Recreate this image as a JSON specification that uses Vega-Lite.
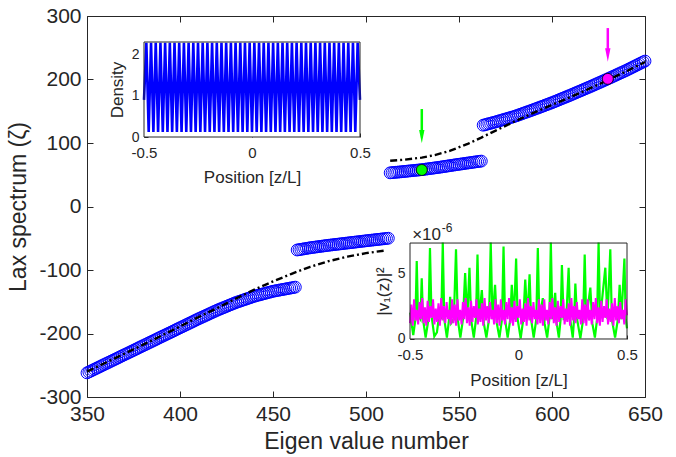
{
"$schema":"https://vega.github.io/schema/vega-lite/v6.json",
"width":558,"height":381,
"autosize":{"type":"none"},
"padding":{"left":87,"top":16,"right":31,"bottom":60},
"background":"white",
"config":{
"font":"Liberation Sans",
"locale":{"number":{"decimal":".","thousands":",","grouping":[3],"currency":["$",""],"minus":"-"}},
"view":{"stroke":"#262626","strokeWidth":1},
"axis":{"grid":false,"domain":false,"tickColor":"#262626","labelColor":"#262626","titleColor":"#262626","titleFontWeight":"normal","labelFont":"Liberation Sans","titleFont":"Liberation Sans","labelFlush":false,"labelOverlap":false}
},
"datasets":{
"eig":[
{"n":350,"v":-262},{"n":351,"v":-260.6},{"n":352,"v":-259.2},{"n":353,"v":-257.7},{"n":354,"v":-256.3},{"n":355,"v":-254.9},{"n":356,"v":-253.5},{"n":357,"v":-252.1},{"n":358,"v":-250.6},{"n":359,"v":-249.2},
{"n":360,"v":-247.8},{"n":361,"v":-246.4},{"n":362,"v":-245},{"n":363,"v":-243.5},{"n":364,"v":-242.1},{"n":365,"v":-240.7},{"n":366,"v":-239.3},{"n":367,"v":-237.9},{"n":368,"v":-236.4},{"n":369,"v":-235},
{"n":370,"v":-233.6},{"n":371,"v":-232.2},{"n":372,"v":-230.8},{"n":373,"v":-229.3},{"n":374,"v":-227.9},{"n":375,"v":-226.5},{"n":376,"v":-225.1},{"n":377,"v":-223.7},{"n":378,"v":-222.2},{"n":379,"v":-220.8},
{"n":380,"v":-219.4},{"n":381,"v":-218},{"n":382,"v":-216.6},{"n":383,"v":-215.1},{"n":384,"v":-213.7},{"n":385,"v":-212.3},{"n":386,"v":-210.9},{"n":387,"v":-209.5},{"n":388,"v":-208},{"n":389,"v":-206.6},
{"n":390,"v":-205.2},{"n":391,"v":-203.8},{"n":392,"v":-202.4},{"n":393,"v":-200.9},{"n":394,"v":-199.5},{"n":395,"v":-198.1},{"n":396,"v":-196.7},{"n":397,"v":-195.3},{"n":398,"v":-193.8},{"n":399,"v":-192.4},
{"n":400,"v":-191},{"n":401,"v":-189.6},{"n":402,"v":-188.2},{"n":403,"v":-186.7},{"n":404,"v":-185.3},{"n":405,"v":-183.9},{"n":406,"v":-182.5},{"n":407,"v":-181.1},{"n":408,"v":-179.6},{"n":409,"v":-178.2},
{"n":410,"v":-176.8},{"n":411,"v":-175.5},{"n":412,"v":-174.1},{"n":413,"v":-172.8},{"n":414,"v":-171.4},{"n":415,"v":-170.1},{"n":416,"v":-168.7},{"n":417,"v":-167.4},{"n":418,"v":-166},{"n":419,"v":-164.7},
{"n":420,"v":-163.3},{"n":421,"v":-162.1},{"n":422,"v":-160.9},{"n":423,"v":-159.7},{"n":424,"v":-158.5},{"n":425,"v":-157.3},{"n":426,"v":-156.1},{"n":427,"v":-154.9},{"n":428,"v":-153.7},{"n":429,"v":-152.5},
{"n":430,"v":-151.3},{"n":431,"v":-150.3},{"n":432,"v":-149.3},{"n":433,"v":-148.3},{"n":434,"v":-147.3},{"n":435,"v":-146.3},{"n":436,"v":-145.3},{"n":437,"v":-144.3},{"n":438,"v":-143.3},{"n":439,"v":-142.3},
{"n":440,"v":-141.3},{"n":441,"v":-140.5},{"n":442,"v":-139.7},{"n":443,"v":-139},{"n":444,"v":-138.2},{"n":445,"v":-137.4},{"n":446,"v":-136.6},{"n":447,"v":-135.8},{"n":448,"v":-135.1},{"n":449,"v":-134.3},
{"n":450,"v":-133.5},{"n":451,"v":-133},{"n":452,"v":-132.4},{"n":453,"v":-131.9},{"n":454,"v":-131.3},{"n":455,"v":-130.8},{"n":456,"v":-130.3},{"n":457,"v":-129.7},{"n":458,"v":-129.2},{"n":459,"v":-128.6},
{"n":460,"v":-128.1},{"n":461,"v":-127.6},{"n":462,"v":-127},
{"n":463,"v":-68.5},{"n":464,"v":-68},{"n":465,"v":-67.5},{"n":466,"v":-67},{"n":467,"v":-66.5},{"n":468,"v":-66},{"n":469,"v":-65.5},
{"n":470,"v":-65},{"n":471,"v":-64.6},{"n":472,"v":-64.2},{"n":473,"v":-63.8},{"n":474,"v":-63.4},{"n":475,"v":-63},{"n":476,"v":-62.6},{"n":477,"v":-62.2},{"n":478,"v":-61.8},{"n":479,"v":-61.4},
{"n":480,"v":-61},{"n":481,"v":-60.7},{"n":482,"v":-60.3},{"n":483,"v":-60},{"n":484,"v":-59.6},{"n":485,"v":-59.3},{"n":486,"v":-58.9},{"n":487,"v":-58.6},{"n":488,"v":-58.2},{"n":489,"v":-57.9},
{"n":490,"v":-57.5},{"n":491,"v":-57.2},{"n":492,"v":-56.8},{"n":493,"v":-56.5},{"n":494,"v":-56.1},{"n":495,"v":-55.8},{"n":496,"v":-55.4},{"n":497,"v":-55.1},{"n":498,"v":-54.7},{"n":499,"v":-54.4},
{"n":500,"v":-54},{"n":501,"v":-53.7},{"n":502,"v":-53.3},{"n":503,"v":-53},{"n":504,"v":-52.7},{"n":505,"v":-52.3},{"n":506,"v":-52},{"n":507,"v":-51.7},{"n":508,"v":-51.3},{"n":509,"v":-51},
{"n":510,"v":-50.7},{"n":511,"v":-50.3},{"n":512,"v":-50},
{"n":513,"v":53},{"n":514,"v":53.3},{"n":515,"v":53.6},{"n":516,"v":53.9},{"n":517,"v":54.1},{"n":518,"v":54.4},{"n":519,"v":54.7},
{"n":520,"v":55},{"n":521,"v":55.3},{"n":522,"v":55.6},{"n":523,"v":55.9},{"n":524,"v":56.2},{"n":525,"v":56.5},{"n":526,"v":56.8},{"n":527,"v":57.1},{"n":528,"v":57.4},{"n":529,"v":57.7},
{"n":530,"v":58},{"n":531,"v":58.4},{"n":532,"v":58.8},{"n":533,"v":59.2},{"n":534,"v":59.6},{"n":535,"v":60},{"n":536,"v":60.4},{"n":537,"v":60.8},{"n":538,"v":61.2},{"n":539,"v":61.6},
{"n":540,"v":62},{"n":541,"v":62.5},{"n":542,"v":62.9},{"n":543,"v":63.4},{"n":544,"v":63.8},{"n":545,"v":64.3},{"n":546,"v":64.7},{"n":547,"v":65.2},{"n":548,"v":65.6},{"n":549,"v":66.1},
{"n":550,"v":66.5},{"n":551,"v":66.9},{"n":552,"v":67.3},{"n":553,"v":67.8},{"n":554,"v":68.2},{"n":555,"v":68.6},{"n":556,"v":69},{"n":557,"v":69.4},{"n":558,"v":69.9},{"n":559,"v":70.3},
{"n":560,"v":70.7},{"n":561,"v":71.1},{"n":562,"v":71.5},
{"n":563,"v":128},{"n":564,"v":128.8},{"n":565,"v":129.6},{"n":566,"v":130.4},{"n":567,"v":131.1},{"n":568,"v":131.9},{"n":569,"v":132.7},
{"n":570,"v":133.5},{"n":571,"v":134.4},{"n":572,"v":135.2},{"n":573,"v":136.1},{"n":574,"v":136.9},{"n":575,"v":137.8},{"n":576,"v":138.6},{"n":577,"v":139.5},{"n":578,"v":140.3},{"n":579,"v":141.2},
{"n":580,"v":142},{"n":581,"v":143.1},{"n":582,"v":144.1},{"n":583,"v":145.2},{"n":584,"v":146.2},{"n":585,"v":147.3},{"n":586,"v":148.3},{"n":587,"v":149.4},{"n":588,"v":150.4},{"n":589,"v":151.5},
{"n":590,"v":152.5},{"n":591,"v":153.6},{"n":592,"v":154.7},{"n":593,"v":155.8},{"n":594,"v":156.9},{"n":595,"v":158},{"n":596,"v":159.1},{"n":597,"v":160.2},{"n":598,"v":161.3},{"n":599,"v":162.4},
{"n":600,"v":163.5},{"n":601,"v":164.7},{"n":602,"v":165.9},{"n":603,"v":167.1},{"n":604,"v":168.3},{"n":605,"v":169.5},{"n":606,"v":170.7},{"n":607,"v":171.9},{"n":608,"v":173.1},{"n":609,"v":174.3},
{"n":610,"v":175.5},{"n":611,"v":176.8},{"n":612,"v":178},{"n":613,"v":179.3},{"n":614,"v":180.5},{"n":615,"v":181.8},{"n":616,"v":183},{"n":617,"v":184.3},{"n":618,"v":185.5},{"n":619,"v":186.8},
{"n":620,"v":188},{"n":621,"v":189.3},{"n":622,"v":190.6},{"n":623,"v":191.9},{"n":624,"v":193.2},{"n":625,"v":194.5},{"n":626,"v":195.8},{"n":627,"v":197.1},{"n":628,"v":198.4},{"n":629,"v":199.7},
{"n":630,"v":201},{"n":631,"v":202.4},{"n":632,"v":203.7},{"n":633,"v":205.1},{"n":634,"v":206.4},{"n":635,"v":207.8},{"n":636,"v":209.1},{"n":637,"v":210.5},{"n":638,"v":211.8},{"n":639,"v":213.2},
{"n":640,"v":214.5},{"n":641,"v":216},{"n":642,"v":217.4},{"n":643,"v":218.9},{"n":644,"v":220.3},{"n":645,"v":221.8},{"n":646,"v":223.2},{"n":647,"v":224.7},{"n":648,"v":226.1},{"n":649,"v":227.6},
{"n":650,"v":229}
],
"dash":[
{"s":"a","n":350,"v":-260},{"s":"a","n":360,"v":-246},{"s":"a","n":370,"v":-232},{"s":"a","n":380,"v":-218},{"s":"a","n":390,"v":-203.5},{"s":"a","n":400,"v":-189},{"s":"a","n":410,"v":-174},{"s":"a","n":420,"v":-160},{"s":"a","n":430,"v":-145},{"s":"a","n":440,"v":-131},{"s":"a","n":450,"v":-118},{"s":"a","n":460,"v":-106},{"s":"a","n":470,"v":-95},{"s":"a","n":480,"v":-86},{"s":"a","n":490,"v":-79},{"s":"a","n":500,"v":-73.5},{"s":"a","n":511,"v":-69},
{"s":"b","n":513,"v":72},{"s":"b","n":520,"v":73.5},{"s":"b","n":530,"v":77},{"s":"b","n":537,"v":81},{"s":"b","n":545,"v":87.5},{"s":"b","n":555,"v":99},{"s":"b","n":562,"v":108.5},{"s":"b","n":570,"v":120},{"s":"b","n":580,"v":134},{"s":"b","n":590,"v":147.5},{"s":"b","n":600,"v":160},{"s":"b","n":610,"v":172.5},{"s":"b","n":620,"v":185.5},{"s":"b","n":630,"v":199},{"s":"b","n":640,"v":213},{"s":"b","n":650,"v":227.5}
],
"picked":[{"n":530,"v":57.5,"eig":"530"},{"n":630,"v":201,"eig":"630"}],
"arrows":[{"n":530,"top":153.5,"base":119,"head":110,"eig":"530"},{"n":630,"top":281,"base":245,"head":238.6,"eig":"630"}],
"dens":[
{"z":-0.5,"d":0.9},{"z":-0.4891,"d":2.28},{"z":-0.4783,"d":0.12},{"z":-0.4674,"d":2.28},{"z":-0.4565,"d":0.12},{"z":-0.4457,"d":2.28},{"z":-0.4348,"d":0.12},{"z":-0.4239,"d":2.28},{"z":-0.413,"d":0.12},{"z":-0.4022,"d":2.28},
{"z":-0.3913,"d":0.12},{"z":-0.3804,"d":2.28},{"z":-0.3696,"d":0.12},{"z":-0.3587,"d":2.28},{"z":-0.3478,"d":0.12},{"z":-0.337,"d":2.28},{"z":-0.3261,"d":0.12},{"z":-0.3152,"d":2.28},{"z":-0.3043,"d":0.12},{"z":-0.2935,"d":2.28},
{"z":-0.2826,"d":0.12},{"z":-0.2717,"d":2.28},{"z":-0.2609,"d":0.12},{"z":-0.25,"d":2.28},{"z":-0.2391,"d":0.12},{"z":-0.2283,"d":2.28},{"z":-0.2174,"d":0.12},{"z":-0.2065,"d":2.28},{"z":-0.1957,"d":0.12},{"z":-0.1848,"d":2.28},
{"z":-0.1739,"d":0.12},{"z":-0.163,"d":2.28},{"z":-0.1522,"d":0.12},{"z":-0.1413,"d":2.28},{"z":-0.1304,"d":0.12},{"z":-0.1196,"d":2.28},{"z":-0.1087,"d":0.12},{"z":-0.0978,"d":2.28},{"z":-0.087,"d":0.12},{"z":-0.0761,"d":2.28},
{"z":-0.0652,"d":0.12},{"z":-0.0543,"d":2.28},{"z":-0.0435,"d":0.12},{"z":-0.0326,"d":2.28},{"z":-0.0217,"d":0.12},{"z":-0.0109,"d":2.28},{"z":0,"d":0.12},{"z":0.0109,"d":2.28},{"z":0.0217,"d":0.12},{"z":0.0326,"d":2.28},
{"z":0.0435,"d":0.12},{"z":0.0543,"d":2.28},{"z":0.0652,"d":0.12},{"z":0.0761,"d":2.28},{"z":0.087,"d":0.12},{"z":0.0978,"d":2.28},{"z":0.1087,"d":0.12},{"z":0.1196,"d":2.28},{"z":0.1304,"d":0.12},{"z":0.1413,"d":2.28},
{"z":0.1522,"d":0.12},{"z":0.163,"d":2.28},{"z":0.1739,"d":0.12},{"z":0.1848,"d":2.28},{"z":0.1957,"d":0.12},{"z":0.2065,"d":2.28},{"z":0.2174,"d":0.12},{"z":0.2283,"d":2.28},{"z":0.2391,"d":0.12},{"z":0.25,"d":2.28},
{"z":0.2609,"d":0.12},{"z":0.2717,"d":2.28},{"z":0.2826,"d":0.12},{"z":0.2935,"d":2.28},{"z":0.3043,"d":0.12},{"z":0.3152,"d":2.28},{"z":0.3261,"d":0.12},{"z":0.337,"d":2.28},{"z":0.3478,"d":0.12},{"z":0.3587,"d":2.28},
{"z":0.3696,"d":0.12},{"z":0.3804,"d":2.28},{"z":0.3913,"d":0.12},{"z":0.4022,"d":2.28},{"z":0.413,"d":0.12},{"z":0.4239,"d":2.28},{"z":0.4348,"d":0.12},{"z":0.4457,"d":2.28},{"z":0.4565,"d":0.12},{"z":0.4674,"d":2.28},
{"z":0.4783,"d":0.12},{"z":0.4891,"d":2.28},{"z":0.5,"d":0.9}
],
"green":[
{"z":-0.5,"p":2.0},{"z":-0.485,"p":0.3},{"z":-0.475,"p":1.5},{"z":-0.469,"p":5.9},{"z":-0.463,"p":1.8},{"z":-0.452,"p":1.5},{"z":-0.446,"p":4.6},{"z":-0.44,"p":1.5},{"z":-0.428,"p":0.1},{"z":-0.415,"p":1.5},
{"z":-0.408,"p":6.9},{"z":-0.401,"p":1.8},{"z":-0.388,"p":0.2},{"z":-0.376,"p":0.5},{"z":-0.364,"p":2.0},{"z":-0.356,"p":1.5},{"z":-0.349,"p":7.3},{"z":-0.342,"p":1.5},{"z":-0.33,"p":0.1},{"z":-0.32,"p":1.5},
{"z":-0.315,"p":3.2},{"z":-0.31,"p":1.2},{"z":-0.298,"p":1.5},{"z":-0.288,"p":6.8},{"z":-0.28,"p":1.5},{"z":-0.268,"p":0.1},{"z":-0.256,"p":1.5},{"z":-0.246,"p":5.0},{"z":-0.236,"p":1.5},{"z":-0.226,"p":5.4},
{"z":-0.218,"p":1.4},{"z":-0.206,"p":0.1},{"z":-0.196,"p":1.5},{"z":-0.189,"p":6.4},{"z":-0.182,"p":1.5},{"z":-0.169,"p":3.7},{"z":-0.16,"p":1.2},{"z":-0.148,"p":0.1},{"z":-0.136,"p":1.5},{"z":-0.128,"p":7.3},
{"z":-0.12,"p":1.5},{"z":-0.108,"p":4.1},{"z":-0.1,"p":1.2},{"z":-0.088,"p":0.1},{"z":-0.076,"p":1.5},{"z":-0.069,"p":7.0},{"z":-0.062,"p":1.5},{"z":-0.05,"p":0.1},{"z":-0.038,"p":1.5},{"z":-0.031,"p":4.1},
{"z":-0.021,"p":1.5},{"z":-0.011,"p":6.1},{"z":-0.004,"p":1.5},{"z":0.01,"p":0.05},{"z":0.022,"p":1.5},{"z":0.031,"p":4.5},{"z":0.041,"p":1.5},{"z":0.051,"p":4.9},{"z":0.058,"p":1.5},{"z":0.07,"p":0.1},
{"z":0.082,"p":1.5},{"z":0.089,"p":6.9},{"z":0.096,"p":1.5},{"z":0.112,"p":3.1},{"z":0.12,"p":1.2},{"z":0.132,"p":0.1},{"z":0.142,"p":1.5},{"z":0.149,"p":7.3},{"z":0.156,"p":1.5},{"z":0.169,"p":3.5},
{"z":0.176,"p":1.2},{"z":0.186,"p":0.1},{"z":0.194,"p":1.5},{"z":0.2,"p":5.6},{"z":0.208,"p":1.5},{"z":0.22,"p":1.5},{"z":0.231,"p":5.4},{"z":0.238,"p":1.5},{"z":0.25,"p":0.1},{"z":0.256,"p":1.5},
{"z":0.262,"p":4.2},{"z":0.27,"p":1.5},{"z":0.285,"p":0.05},{"z":0.298,"p":1.5},{"z":0.305,"p":6.4},{"z":0.312,"p":1.5},{"z":0.331,"p":3.9},{"z":0.34,"p":1.2},{"z":0.352,"p":0.1},{"z":0.362,"p":1.5},
{"z":0.369,"p":7.3},{"z":0.376,"p":1.5},{"z":0.4,"p":5.4},{"z":0.41,"p":1.5},{"z":0.423,"p":6.8},{"z":0.43,"p":1.5},{"z":0.445,"p":0.1},{"z":0.458,"p":1.5},{"z":0.466,"p":4.1},{"z":0.474,"p":1.5},
{"z":0.488,"p":6.1},{"z":0.494,"p":1.5},{"z":0.5,"p":0.8}
],
"mag":[
{"z":-0.5,"p":1.2},{"z":-0.49375,"p":2.6},{"z":-0.4875,"p":1.0},{"z":-0.48125,"p":3.0},{"z":-0.475,"p":1.4},{"z":-0.46875,"p":2.2},{"z":-0.4625,"p":1.1},{"z":-0.45625,"p":2.8},{"z":-0.45,"p":1.5},{"z":-0.44375,"p":3.1},
{"z":-0.4375,"p":1.2},{"z":-0.43125,"p":2.4},{"z":-0.425,"p":1.0},{"z":-0.41875,"p":2.9},{"z":-0.4125,"p":1.3},{"z":-0.40625,"p":2.5},{"z":-0.4,"p":1.6},{"z":-0.39375,"p":3.0},{"z":-0.3875,"p":1.1},{"z":-0.38125,"p":2.3},
{"z":-0.375,"p":1.3},{"z":-0.36875,"p":2.7},{"z":-0.3625,"p":1.0},{"z":-0.35625,"p":3.1},{"z":-0.35,"p":1.4},{"z":-0.34375,"p":2.5},{"z":-0.3375,"p":1.2},{"z":-0.33125,"p":2.8},{"z":-0.325,"p":1.5},{"z":-0.31875,"p":2.2},
{"z":-0.3125,"p":1.1},{"z":-0.30625,"p":3.0},{"z":-0.3,"p":1.2},{"z":-0.29375,"p":2.6},{"z":-0.2875,"p":1.0},{"z":-0.28125,"p":3.0},{"z":-0.275,"p":1.4},{"z":-0.26875,"p":2.2},{"z":-0.2625,"p":1.1},{"z":-0.25625,"p":2.8},
{"z":-0.25,"p":1.5},{"z":-0.24375,"p":3.1},{"z":-0.2375,"p":1.2},{"z":-0.23125,"p":2.4},{"z":-0.225,"p":1.0},{"z":-0.21875,"p":2.9},{"z":-0.2125,"p":1.3},{"z":-0.20625,"p":2.5},{"z":-0.2,"p":1.6},{"z":-0.19375,"p":3.0},
{"z":-0.1875,"p":1.1},{"z":-0.18125,"p":2.3},{"z":-0.175,"p":1.3},{"z":-0.16875,"p":2.7},{"z":-0.1625,"p":1.0},{"z":-0.15625,"p":3.1},{"z":-0.15,"p":1.4},{"z":-0.14375,"p":2.5},{"z":-0.1375,"p":1.2},{"z":-0.13125,"p":2.8},
{"z":-0.125,"p":1.5},{"z":-0.11875,"p":2.2},{"z":-0.1125,"p":1.1},{"z":-0.10625,"p":3.0},{"z":-0.1,"p":1.2},{"z":-0.09375,"p":2.6},{"z":-0.0875,"p":1.0},{"z":-0.08125,"p":3.0},{"z":-0.075,"p":1.4},{"z":-0.06875,"p":2.2},
{"z":-0.0625,"p":1.1},{"z":-0.05625,"p":2.8},{"z":-0.05,"p":1.5},{"z":-0.04375,"p":3.1},{"z":-0.0375,"p":1.2},{"z":-0.03125,"p":2.4},{"z":-0.025,"p":1.0},{"z":-0.01875,"p":2.9},{"z":-0.0125,"p":1.3},{"z":-0.00625,"p":2.5},
{"z":0,"p":1.6},{"z":0.00625,"p":3.0},{"z":0.0125,"p":1.1},{"z":0.01875,"p":2.3},{"z":0.025,"p":1.3},{"z":0.03125,"p":2.7},{"z":0.0375,"p":1.0},{"z":0.04375,"p":3.1},{"z":0.05,"p":1.4},{"z":0.05625,"p":2.5},
{"z":0.0625,"p":1.2},{"z":0.06875,"p":2.8},{"z":0.075,"p":1.5},{"z":0.08125,"p":2.2},{"z":0.0875,"p":1.1},{"z":0.09375,"p":3.0},{"z":0.1,"p":1.2},{"z":0.10625,"p":2.6},{"z":0.1125,"p":1.0},{"z":0.11875,"p":3.0},
{"z":0.125,"p":1.4},{"z":0.13125,"p":2.2},{"z":0.1375,"p":1.1},{"z":0.14375,"p":2.8},{"z":0.15,"p":1.5},{"z":0.15625,"p":3.1},{"z":0.1625,"p":1.2},{"z":0.16875,"p":2.4},{"z":0.175,"p":1.0},{"z":0.18125,"p":2.9},
{"z":0.1875,"p":1.3},{"z":0.19375,"p":2.5},{"z":0.2,"p":1.6},{"z":0.20625,"p":3.0},{"z":0.2125,"p":1.1},{"z":0.21875,"p":2.3},{"z":0.225,"p":1.3},{"z":0.23125,"p":2.7},{"z":0.2375,"p":1.0},{"z":0.24375,"p":3.1},
{"z":0.25,"p":1.4},{"z":0.25625,"p":2.5},{"z":0.2625,"p":1.2},{"z":0.26875,"p":2.8},{"z":0.275,"p":1.5},{"z":0.28125,"p":2.2},{"z":0.2875,"p":1.1},{"z":0.29375,"p":3.0},{"z":0.3,"p":1.2},{"z":0.30625,"p":2.6},
{"z":0.3125,"p":1.0},{"z":0.31875,"p":3.0},{"z":0.325,"p":1.4},{"z":0.33125,"p":2.2},{"z":0.3375,"p":1.1},{"z":0.34375,"p":2.8},{"z":0.35,"p":1.5},{"z":0.35625,"p":3.1},{"z":0.3625,"p":1.2},{"z":0.36875,"p":2.4},
{"z":0.375,"p":1.0},{"z":0.38125,"p":2.9},{"z":0.3875,"p":1.3},{"z":0.39375,"p":2.5},{"z":0.4,"p":1.6},{"z":0.40625,"p":3.0},{"z":0.4125,"p":1.1},{"z":0.41875,"p":2.3},{"z":0.425,"p":1.3},{"z":0.43125,"p":2.7},
{"z":0.4375,"p":1.0},{"z":0.44375,"p":3.1},{"z":0.45,"p":1.4},{"z":0.45625,"p":2.5},{"z":0.4625,"p":1.2},{"z":0.46875,"p":2.8},{"z":0.475,"p":1.5},{"z":0.48125,"p":2.2},{"z":0.4875,"p":1.1},{"z":0.49375,"p":3.0},
{"z":0.5,"p":1.8}
]
},
"layer":[
{
"layer":[
{"data":{"name":"eig"},"mark":{"type":"point","shape":"circle","filled":false,"stroke":"#0000ff","strokeWidth":1,"size":140,"opacity":1},
"encoding":{
"x":{"field":"n","type":"quantitative","scale":{"domain":[350,650],"nice":false,"zero":false},"axis":{"values":[350,400,450,500,550,600,650],"title":"Eigen value number","labelFontSize":21,"titleFontSize":23,"tickSize":-6,"labelPadding":12,"titlePadding":6}},
"y":{"field":"v","type":"quantitative","scale":{"domain":[-300,300],"nice":false,"zero":false},"axis":{"values":[-300,-200,-100,0,100,200,300],"title":"Lax spectrum (ζ)","labelFontSize":21,"titleFontSize":23,"tickSize":-6,"labelPadding":12,"titlePadding":8}}}},
{"data":{"name":"dash"},"mark":{"type":"line","color":"black","strokeWidth":2.4,"strokeDash":[7,3,2,3]},
"encoding":{"x":{"field":"n","type":"quantitative"},"y":{"field":"v","type":"quantitative"},"detail":{"field":"s"}}},
{"data":{"name":"picked"},"mark":{"type":"point","shape":"circle","filled":true,"stroke":"black","strokeWidth":0.8,"size":120,"opacity":1},
"encoding":{"x":{"field":"n","type":"quantitative"},"y":{"field":"v","type":"quantitative"},"color":{"field":"eig","type":"nominal","scale":{"domain":["530","630"],"range":["#00ff00","#ff00ff"]},"legend":null},"stroke":{"value":"black"}}},
{"data":{"name":"arrows"},"mark":{"type":"rule","strokeWidth":2.5},
"encoding":{"x":{"field":"n","type":"quantitative"},"y":{"field":"top","type":"quantitative"},"y2":{"field":"base"},"color":{"field":"eig","type":"nominal","legend":null}}},
{"data":{"name":"arrows"},"mark":{"type":"point","shape":"M-0.4,-1L0.4,-1L0,1Z","filled":true,"size":180,"opacity":1,"strokeWidth":0},
"encoding":{"x":{"field":"n","type":"quantitative"},"y":{"field":"head","type":"quantitative"},"color":{"field":"eig","type":"nominal","legend":null}}}
]
},
{
"data":{"values":[{"n":350,"v":-300},{"n":650,"v":300}]},
"mark":{"type":"point","opacity":0},
"encoding":{
"x":{"field":"n","type":"quantitative","scale":{"domain":[350,650],"nice":false,"zero":false},"axis":{"orient":"top","values":[350,400,450,500,550,600,650],"labels":false,"title":null,"tickSize":-6}},
"y":{"field":"v","type":"quantitative","scale":{"domain":[-300,300],"nice":false,"zero":false},"axis":{"orient":"right","values":[-300,-200,-100,0,100,200,300],"labels":false,"title":null,"tickSize":-6}}}
},
{
"layer":[
{"data":{"values":[{"z0":-0.5,"z1":0.5,"d0":0,"d1":2.3}]},"mark":{"type":"rect","fill":"white","stroke":null},
"encoding":{
"x":{"field":"z0","type":"quantitative","scale":{"domain":[-0.76389,1.81944],"nice":false,"zero":false},"axis":{"orient":"bottom","offset":-260,"values":[-0.5,0,0.5],"format":"~g","tickSize":-4,"labelPadding":12,"labelFontSize":15,"title":"Position [z/L]","titleFontSize":17,"titleX":165,"titleY":45,"titleBaseline":"alphabetic"}},
"x2":{"field":"z1"},
"y":{"field":"d0","type":"quantitative","scale":{"domain":[-6.2947,2.9295],"nice":false,"zero":false},"axis":{"orient":"left","offset":-57,"values":[0,1,2],"format":"~g","tickSize":-4,"labelPadding":9,"labelFontSize":14,"title":"Density","titleFontSize":17,"titleX":-22,"titleY":73.5,"titleBaseline":"alphabetic","titleAngle":-90}},
"y2":{"field":"d1"}}},
{"data":{"name":"dens"},"mark":{"type":"line","color":"#0000ff","strokeWidth":2.6},
"encoding":{"x":{"field":"z","type":"quantitative"},"y":{"field":"d","type":"quantitative"}}},
{"data":{"values":[{"z0":-0.5,"z1":0.5,"d0":0,"d1":2.3}]},"mark":{"type":"rect","fill":null,"stroke":"#262626","strokeWidth":1},
"encoding":{"x":{"field":"z0","type":"quantitative"},"x2":{"field":"z1"},"y":{"field":"d0","type":"quantitative"},"y2":{"field":"d1"}}}
]
},
{
"layer":[
{"data":{"values":[{"z0":-0.5,"z1":0.5,"p0":0,"p1":7.27}]},"mark":{"type":"rect","fill":"white","stroke":null},
"encoding":{
"x":{"field":"z0","type":"quantitative","scale":{"domain":[-1.9885,0.5829],"nice":false,"zero":false},"axis":{"orient":"bottom","offset":-58,"values":[-0.5,0,0.5],"format":"~g","tickSize":-4,"labelPadding":12,"labelFontSize":15,"title":"Position [z/L]","titleFontSize":17,"titleX":431.5,"titleY":46,"titleBaseline":"alphabetic"}},
"x2":{"field":"z1"},
"y":{"field":"p0","type":"quantitative","scale":{"domain":[-4.394,24.47],"nice":false,"zero":false},"axis":{"orient":"left","offset":-323,"values":[0,5],"format":"~g","tickSize":-4,"labelPadding":9,"labelFontSize":14,"title":"|v₁(z)|²","titleFontSize":17,"titleX":-22,"titleY":275,"titleBaseline":"alphabetic","titleAngle":-90}},
"y2":{"field":"p1"}}},
{"data":{"name":"green"},"mark":{"type":"line","strokeWidth":2.2},
"encoding":{"x":{"field":"z","type":"quantitative"},"y":{"field":"p","type":"quantitative"},"color":{"datum":"530","type":"nominal","legend":null}}},
{"data":{"name":"mag"},"mark":{"type":"line","strokeWidth":2},
"encoding":{"x":{"field":"z","type":"quantitative"},"y":{"field":"p","type":"quantitative"},"color":{"datum":"630","type":"nominal","legend":null}}},
{"data":{"values":[{"z0":-0.5,"z1":0.5,"p0":0,"p1":7.27}]},"mark":{"type":"rect","fill":null,"stroke":"#262626","strokeWidth":1},
"encoding":{"x":{"field":"z0","type":"quantitative"},"x2":{"field":"z1"},"y":{"field":"p0","type":"quantitative"},"y2":{"field":"p1"}}},
{"data":{"values":[{"z":-0.49,"p":7.5,"t":"×10"}]},"mark":{"type":"text","align":"left","baseline":"alphabetic","fontSize":17,"color":"#262626"},
"encoding":{"x":{"field":"z","type":"quantitative"},"y":{"field":"p","type":"quantitative"},"text":{"field":"t"}}},
{"data":{"values":[{"z":-0.354,"p":8.1,"t":"-6"}]},"mark":{"type":"text","align":"left","baseline":"alphabetic","fontSize":12,"color":"#262626"},
"encoding":{"x":{"field":"z","type":"quantitative"},"y":{"field":"p","type":"quantitative"},"text":{"field":"t"}}}
]
}
],
"resolve":{"scale":{"x":"independent","y":"independent"},"axis":{"x":"independent","y":"independent"}}
}
